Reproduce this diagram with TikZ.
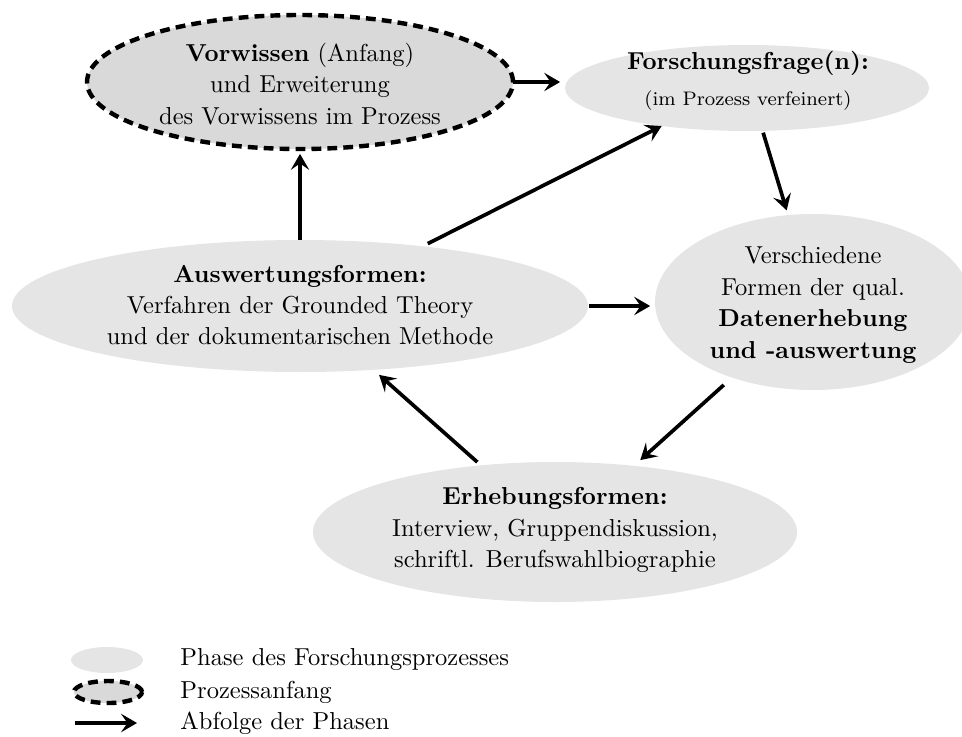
\documentclass[tikz,border=0pt]{standalone}
\usetikzlibrary{shapes.geometric,arrows.meta}
\def\PX{0.408pt}
\tikzset{
  phase/.style={ellipse, fill=black!10, inner sep=0pt, outer sep=0pt},
  startph/.style={ellipse, fill=black!15, draw=black, line width=1.8pt,
    dash pattern=on 4pt off 2.5pt, inner sep=0pt, outer sep=0pt},
  flow/.style={line width=1.5pt, -{Stealth[length=6.5pt,width=7.5pt,inset=2.6pt]}},
  txt/.style={align=center, inner sep=0pt, font=\fontsize{10}{12.8}\selectfont},
  legtxt/.style={anchor=west, inner sep=0pt},
}
\begin{document}
\begin{tikzpicture}[x=\PX, y=-\PX]
\useasboundingbox (0,0) rectangle (962,736);
% ellipses
\node[startph, minimum width=426*\PX, minimum height=134*\PX] (vw) at (300,82) {};
\node[phase, minimum width=364*\PX, minimum height=86*\PX] (ff) at (747,88) {};
\node[phase, minimum width=316*\PX, minimum height=176*\PX] (vf) at (813,302) {};
\node[phase, minimum width=576*\PX, minimum height=132*\PX] (aus) at (300,306) {};
\node[phase, minimum width=484*\PX, minimum height=140*\PX] (erh) at (555,532) {};
% texts
\node[txt] (vwt) at (300,84) {\textbf{Vorwissen} (Anfang)\\ und Erweiterung\\ des Vorwissens im Prozess};
\node[txt] (fft) at (748,81) {\textbf{Forschungsfrage(n):}\\[2pt] {\footnotesize (im Prozess verfeinert)}};
\node[txt] (vft) at (813,305) {Verschiedene\\ Formen der qual.\\ \textbf{Datenerhebung}\\ \textbf{und -auswertung}};
\node[txt] (aust) at (300,305) {\textbf{Auswertungsformen:}\\ Verfahren der Grounded Theory\\ und der dokumentarischen Methode};
\node[txt] (erht) at (555,530) {\textbf{Erhebungsformen:}\\ Interview, Gruppendiskussion,\\ schriftl. Berufswahlbiographie};
% arrows
\draw[flow, shorten >=2pt] (vw.east) -- (vw.east -| ff.west);
\draw[flow, shorten >=2pt] (aus.north) -- (vw.south);
\draw[flow, shorten <=2.4pt] (aus.26.7) -- (ff.-156.3);
\draw[flow, shorten <=0.8pt, shorten >=2pt] (ff.-70.4) -- (vf.106.4);
\draw[flow, shorten <=0.4pt, shorten >=2pt] (aus.east) -- (aus.east -| vf.west);
\draw[flow, shorten <=4.5pt, shorten >=3.5pt] (vf.-137.3) -- (erh.40.9);
\draw[flow, shorten <=2pt, shorten >=3.1pt] (erh.138.1) -- (aus.-41.5);
% legend
\node[phase, minimum width=72*\PX, minimum height=26*\PX] (lg1) at (107,660) {};
\node[startph, minimum width=68*\PX, minimum height=22*\PX] (lg2) at (108,692) {};
\coordinate (la) at (75,723);
\coordinate (lb) at (137,723);
\draw[flow] (la) -- (lb);
\node[legtxt] (t1) at (180,660) {Phase des Forschungsprozesses};
\node[legtxt] (t2) at (180,692) {Prozessanfang};
\node[legtxt] (t3) at (180,723) {Abfolge der Phasen};
\end{tikzpicture}
\end{document}
